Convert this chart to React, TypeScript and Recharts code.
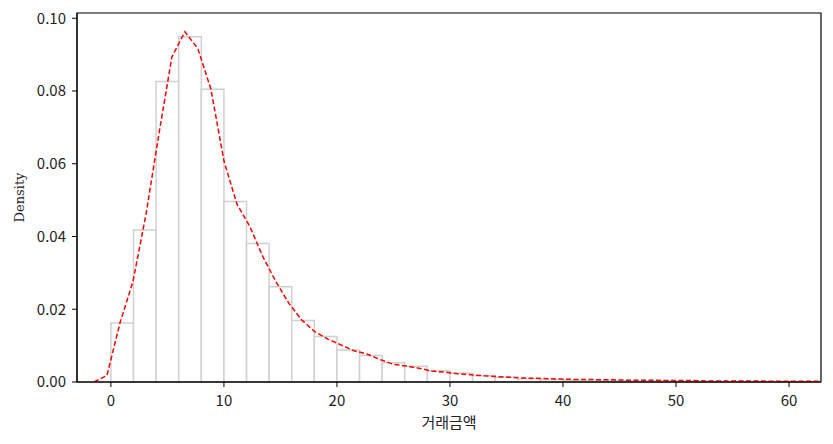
import React from "react";
import { ComposedChart, Line, XAxis, YAxis, ReferenceArea, Label } from "recharts";

const binStarts = [0, 2, 4, 6, 8, 10, 12, 14, 16, 18, 20, 22, 24, 26, 28, 30, 32, 34, 36, 38, 40, 42, 44, 46, 48, 50, 52, 54, 56, 58, 60];
const binDensity = [0.0162, 0.0418, 0.0826, 0.0949, 0.0805, 0.0496, 0.0381, 0.0262, 0.0169, 0.0125, 0.0088, 0.0073, 0.0053, 0.0043, 0.0031, 0.0024, 0.0017, 0.0013, 0.0009, 0.0007, 0.0005, 0.0004, 0.0004, 0.0003, 0.0003, 0.0002, 0.0002, 0.0001, 0.0001, 0.0001, 0.0001];
const binWidth = 2;

const kdeX = [-1.5, -0.35, 0.8, 1.95, 3.1, 4.25, 5.4, 6.55, 7.7, 8.85, 10.0, 11.15, 12.3, 13.45, 14.6, 15.75, 16.9, 18.05, 19.2, 20.35, 21.5, 22.65, 23.8, 24.95, 26.1, 27.25, 28.4, 29.55, 30.7, 31.85, 33.0, 34.15, 35.3, 36.45, 37.6, 38.75, 39.9, 41.05, 42.2, 43.35, 44.5, 45.65, 46.8, 47.95, 49.1, 50.25, 51.4, 52.55, 53.7, 54.85, 56.0, 57.15, 58.3, 59.45, 60.6, 61.75, 62.9];
const kdeY = [0.0, 0.0018, 0.0162, 0.0276, 0.046, 0.0682, 0.0894, 0.0963, 0.0916, 0.0805, 0.0608, 0.0489, 0.0427, 0.0344, 0.0276, 0.0216, 0.017, 0.0138, 0.0118, 0.0102, 0.0086, 0.0077, 0.0062, 0.0049, 0.0044, 0.0038, 0.003, 0.0027, 0.0023, 0.002, 0.0017, 0.0015, 0.0013, 0.0011, 0.001, 0.0009, 0.0008, 0.0007, 0.0007, 0.0006, 0.0006, 0.0005, 0.0005, 0.0005, 0.0004, 0.0004, 0.0004, 0.0003, 0.0003, 0.0003, 0.0003, 0.0003, 0.0002, 0.0002, 0.0002, 0.0002, 0.0002];

const xTicks = [0, 10, 20, 30, 40, 50, 60];
const yTicks = [0, 0.02, 0.04, 0.06, 0.08, 0.1];

const X_MIN = -3.0;
const X_MAX = 62.83;
const Y_MAX = 0.10144;

const kdeData = kdeX.map((x, i) => ({ x, y: kdeY[i] }));

const tickFont = { fontFamily: "'Noto Sans CJK KR', 'Noto Sans', sans-serif", fontSize: 15, fill: "#222" };

export default function App() {
  return (
    <div style={{ position: "absolute", left: 0, top: 0, width: 833, height: 444, background: "#fff" }}>
      <ComposedChart width={833} height={444} data={kdeData} margin={{ top: 13, right: 12, bottom: 22, left: 17 }}>
        <XAxis
          xAxisId="main"
          type="number"
          dataKey="x"
          domain={[X_MIN, X_MAX]}
          ticks={xTicks}
          allowDataOverflow
          height={40}
          stroke="#000"
          tickLine={{ stroke: "#000" }}
          tickSize={5}
          tickMargin={8}
          tick={tickFont}
        >
          <Label value="거래금액" position="insideBottom" offset={-6} style={{ ...tickFont, fontSize: 15 }} />
        </XAxis>
        <YAxis
          yAxisId="main"
          type="number"
          domain={[0, Y_MAX]}
          ticks={yTicks}
          allowDataOverflow
          width={60}
          stroke="#000"
          tickSize={5}
          tickMargin={6}
          tickFormatter={(v: number) => v.toFixed(2)}
          tick={tickFont}
        >
          <Label value="Density" angle={-90} position="insideLeft" offset={2} style={{ fontFamily: "'DejaVu Serif', serif", fontSize: 13, fill: "#222", textAnchor: "middle" }} />
        </YAxis>
        {binStarts.map((s, i) => (
          <ReferenceArea
            key={s}
            xAxisId="main"
            yAxisId="main"
            x1={s}
            x2={s + binWidth}
            y1={0}
            y2={binDensity[i]}
            fill="#ffffff"
            fillOpacity={1}
            stroke="#d0d0d0"
            strokeWidth={1.5}
          />
        ))}
        <Line
          xAxisId="main"
          yAxisId="main"
          type="linear"
          dataKey="y"
          stroke="#ff0000"
          strokeWidth={1.5}
          strokeDasharray="5 2.5"
          dot={false}
          activeDot={false}
          isAnimationActive={false}
        />
        <ReferenceArea
          xAxisId="main"
          yAxisId="main"
          x1={X_MIN}
          x2={X_MAX}
          y1={0}
          y2={Y_MAX}
          ifOverflow="visible"
          fill="#ffffff"
          fillOpacity={0}
          stroke="#000"
          strokeOpacity={1}
          strokeWidth={1.2}
        />
      </ComposedChart>
    </div>
  );
}
